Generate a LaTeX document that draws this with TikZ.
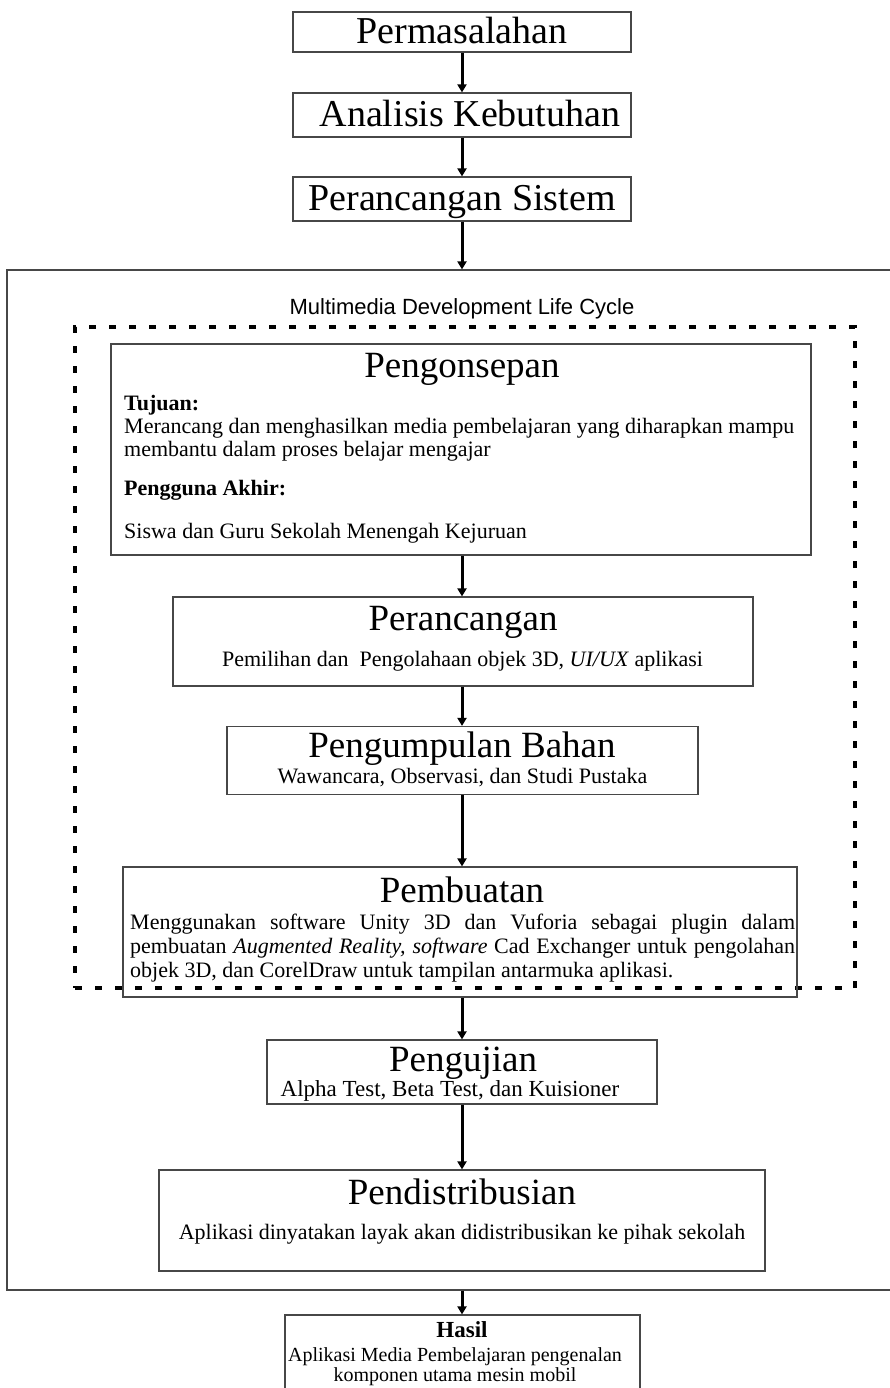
\documentclass[tikz,border=0pt]{standalone}
\usepackage{fontspec}
\setmainfont{Liberation Serif}
\setsansfont{Liberation Sans}
\usetikzlibrary{arrows.meta}
\begin{document}
\begin{tikzpicture}[x=1pt,y=-1pt,
  box/.style={draw=black!72, line width=1.2pt, inner sep=0pt, fill=none},
  arr/.style={-{Triangle[length=8pt,width=9pt]}, line width=3pt, black},
  bigtitle/.style={font=\fontsize{38}{40}\selectfont, anchor=base, inner sep=0pt},
  title/.style={font=\fontsize{37}{40}\selectfont, anchor=base, inner sep=0pt},
  body/.style={font=\fontsize{22}{26}\selectfont, anchor=base, inner sep=0pt},
  bodyl/.style={font=\fontsize{22}{26}\selectfont, anchor=base west, inner sep=0pt},
  small/.style={font=\fontsize{20}{24}\selectfont, anchor=base, inner sep=0pt},
  dashbox/.style={draw=black, line width=3.5pt, dash pattern=on 7pt off 13pt, inner sep=0pt}
]
\useasboundingbox (0,0) rectangle (889,1388);
\coordinate (ax) at (462,0);

% top boxes
\node[box, minimum width=338pt, minimum height=40pt] (perm) at (462,32) {};
\node[bigtitle] (permt) at (462,44) {Permasalahan};
\node[box, minimum width=338pt, minimum height=44pt] (anal) at (462,115) {};
\node[bigtitle] (analt) at (470,127) {Analisis Kebutuhan};
\node[box, minimum width=338pt, minimum height=44pt] (ps) at (462,199) {};
\node[bigtitle] (pst) at (462,211) {Perancangan Sistem};

% outer MDLC frame
\node[box, minimum width=893pt, minimum height=1020pt] (mdlc) at (453.5,780) {};
\node[font=\sffamily\fontsize{22}{26}\selectfont, anchor=base, inner sep=0pt] (mdlct) at (462,314) {Multimedia Development Life Cycle};

% dashed frame
\node[dashbox, minimum width=780pt, minimum height=661pt] (dash) at (465,657.5) {};

% Pengonsepan
\node[box, minimum width=700pt, minimum height=211pt] (konsep) at (461,449.5) {};
\node[title] (konsept) at (462,377) {Pengonsepan};
\node[bodyl] (tuj) at (124,410) {\textbf{Tujuan:}};
\node[bodyl] (tuj1) at (124,433) {Merancang dan menghasilkan media pembelajaran yang diharapkan mampu};
\node[bodyl] (tuj2) at (124,456) {membantu dalam proses belajar mengajar};
\node[bodyl] (peng) at (124,495) {\textbf{Pengguna Akhir:}};
\node[bodyl] (peng1) at (124,538) {Siswa dan Guru Sekolah Menengah Kejuruan};

% Perancangan
\node[box, minimum width=580pt, minimum height=89pt] (ranc) at (463,641.5) {};
\node[title] (ranct) at (463,630) {Perancangan};
\node[body] (ranc1) at (462.5,666) {Pemilihan dan \ Pengolahaan objek 3D, \textit{UI/UX} aplikasi};

% Pengumpulan Bahan
\node[box, minimum width=471pt, minimum height=68pt] (kump) at (462.5,760.5) {};
\node[title] (kumpt) at (462,757) {Pengumpulan Bahan};
\node[body] (kump1) at (462.5,783) {Wawancara, Observasi, dan Studi Pustaka};

% Pembuatan
\node[box, minimum width=674pt, minimum height=130pt] (buat) at (460,932) {};
\node[title] (buatt) at (462,902) {Pembuatan};
\node[bodyl] (buat1) at (130,929) {\makebox[665pt][s]{Menggunakan software Unity 3D dan Vuforia sebagai plugin dalam}};
\node[bodyl] (buat2) at (130,953) {\makebox[665pt][s]{pembuatan \textit{Augmented Reality, software} Cad Exchanger untuk pengolahan}};
\node[bodyl] (buat3) at (130,977) {objek 3D, dan CorelDraw untuk tampilan antarmuka aplikasi.};

% Pengujian
\node[box, minimum width=390pt, minimum height=64pt] (uji) at (462,1072) {};
\node[title] (ujit) at (463,1071) {Pengujian};
\node[font=\fontsize{23}{26}\selectfont, anchor=base, inner sep=0pt] (uji1) at (450,1096) {Alpha Test, Beta Test, dan Kuisioner};

% Pendistribusian
\node[box, minimum width=606pt, minimum height=101pt] (dist) at (462,1220.5) {};
\node[title] (distt) at (462,1204) {Pendistribusian};
\node[body] (dist1) at (462,1239) {Aplikasi dinyatakan layak akan didistribusikan ke pihak sekolah};

% Hasil
\node[box, minimum width=355pt, minimum height=90pt] (hasil) at (462.5,1360) {};
\node[font=\bfseries\fontsize{23}{26}\selectfont, anchor=base, inner sep=0pt] (hasilt) at (462,1337) {Hasil};
\node[small] (hasil1) at (455,1361) {Aplikasi Media Pembelajaran pengenalan};
\node[small] (hasil2) at (455,1381) {komponen utama mesin mobil};

% arrows
\draw[arr] (perm.south -| ax) -- (anal.north -| ax);
\draw[arr] (anal.south -| ax) -- (ps.north -| ax);
\draw[arr] (ps.south -| ax) -- (mdlc.north -| ax);
\draw[arr] (konsep.south -| ax) -- (ranc.north -| ax);
\draw[arr] (ranc.south -| ax) -- (kump.north -| ax);
\draw[arr] (kump.south -| ax) -- (buat.north -| ax);
\draw[arr] (buat.south -| ax) -- (uji.north -| ax);
\draw[arr] (uji.south -| ax) -- (dist.north -| ax);
\draw[arr] (mdlc.south -| ax) -- (hasil.north -| ax);
\end{tikzpicture}
\end{document}
